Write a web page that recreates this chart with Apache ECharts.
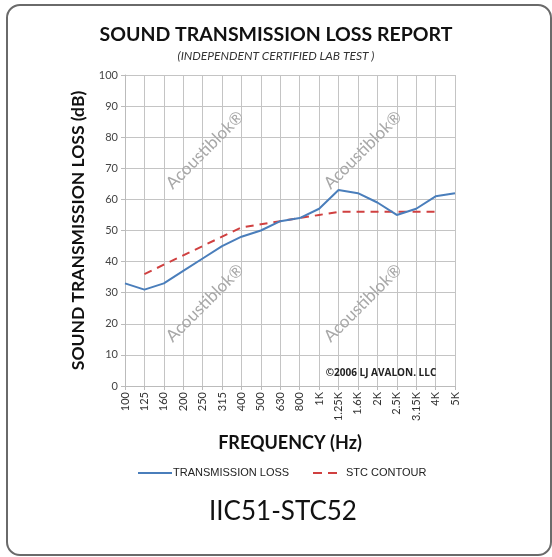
<!DOCTYPE html>
<html>
<head>
<meta charset="utf-8">
<script src="https://cdn.jsdelivr.net/npm/echarts@6/dist/echarts.min.js"></script>
<style>
html,body{margin:0;padding:0;background:#fff;}
#main{width:552px;height:557px;}
</style>
</head>
<body>
<div id="main"></div>
<script>
// 频率类别与数值
var frequencies=["100","125","160","200","250","315","400","500","630","800","1K","1.25K","1.6K","2K","2.5K","3.15K","4K","5K"];
var transmissionLoss=[33,31,33,37,41,45,48,50,53,54,57,63,62,59,55,57,61,62];
var stcContour=[null,36,39,42,45,48,51,52,53,54,55,56,56,56,56,56,56,null];
var yTicks=[0,100,10]; // min,max,interval

var blue='#4a7ebb', red='#d04040';
var myChart=echarts.init(document.getElementById('main'));

// 边框和水印
var marks=[[205,150],[363,150],[205,303],[363,303]];
var graphics=[{
	type:'rect',
	shape:{x:7,y:5,width:544,height:550,r:13},
	style:{fill:'none',stroke:'#6a6a6a',lineWidth:2},
	z:-1
}];
for(var i=0;i<marks.length;i++){
	graphics.push({
		type:'text',
		x:marks[i][0],y:marks[i][1],
		rotation:Math.PI*0.25,
		style:{text:'Acoustiblok®',fill:'#a8a8a8',font:'17px Lato',align:'center',verticalAlign:'middle'},
		z:5
	});
}
graphics.push({
	type:'text',x:381,y:373,
	style:{text:'©2006 LJ AVALON. LLC',fill:'#222',font:'bold 10px "Open Sans"',align:'center',verticalAlign:'middle'},
	z:6
});
graphics.push({
	type:'text',x:283,y:512,
	style:{text:'IIC51-STC52',fill:'#111',font:'26px Lato',align:'center',verticalAlign:'middle'}
});
//图例
graphics.push({type:'line',shape:{x1:138,y1:473,x2:172,y2:473},style:{stroke:blue,lineWidth:2}});
graphics.push({type:'text',x:173,y:473,style:{text:'TRANSMISSION LOSS',fill:'#222',font:'11px "Liberation Sans"',verticalAlign:'middle'}});
graphics.push({type:'line',shape:{x1:313,y1:473,x2:341,y2:473},style:{stroke:red,lineWidth:2,lineDash:[9,6]}});
graphics.push({type:'text',x:346,y:473,style:{text:'STC CONTOUR',fill:'#222',font:'11px "Liberation Sans"',verticalAlign:'middle'}});

var option={
	animation:false,
	title:{
		text:'SOUND TRANSMISSION LOSS REPORT',
		subtext:'(INDEPENDENT CERTIFIED LAB TEST )',
		left:'center',top:20,itemGap:5,
		textStyle:{fontFamily:'Lato',fontWeight:'bold',fontSize:19.5,color:'#111'},
		subtextStyle:{fontFamily:'Lato',fontStyle:'italic',fontSize:12,color:'#333'}
	},
	grid:{left:125,right:97,top:75,bottom:171},
	xAxis:{
		type:'category',boundaryGap:false,data:frequencies,
		name:'FREQUENCY (Hz)',nameLocation:'middle',nameGap:48,
		nameTextStyle:{fontFamily:'Lato',fontWeight:'bold',fontSize:18,color:'#111'},
		axisLine:{lineStyle:{color:'#bbb'}},
		axisTick:{show:true,alignWithLabel:true,length:4,lineStyle:{color:'#bbb'}},
		axisLabel:{rotate:90,fontSize:11,fontFamily:'Lato',color:'#333',margin:6},
		splitLine:{show:true,lineStyle:{color:'#c4c4c4'}}
	},
	yAxis:{
		type:'value',min:yTicks[0],max:yTicks[1],interval:yTicks[2],
		name:'SOUND TRANSMISSION LOSS (dB)',nameLocation:'middle',nameGap:38,
		nameTextStyle:{fontFamily:'Lato',fontWeight:'bold',fontSize:17.5,color:'#111'},
		axisLine:{show:true,lineStyle:{color:'#bbb'}},
		axisTick:{show:true,length:4,lineStyle:{color:'#bbb'}},
		axisLabel:{fontSize:11,fontFamily:'Lato',color:'#444',margin:7},
		splitLine:{lineStyle:{color:'#c4c4c4'}}
	},
	series:[{
		name:'TRANSMISSION LOSS',type:'line',data:transmissionLoss,
		symbol:'none',
		lineStyle:{color:blue,width:2},itemStyle:{color:blue},z:3
	},{
		name:'STC CONTOUR',type:'line',data:stcContour,
		symbol:'none',
		lineStyle:{color:red,width:2,type:[8,6]},itemStyle:{color:red},z:2
	}],
	graphic:graphics
};
myChart.setOption(option);
</script>
</body>
</html>
